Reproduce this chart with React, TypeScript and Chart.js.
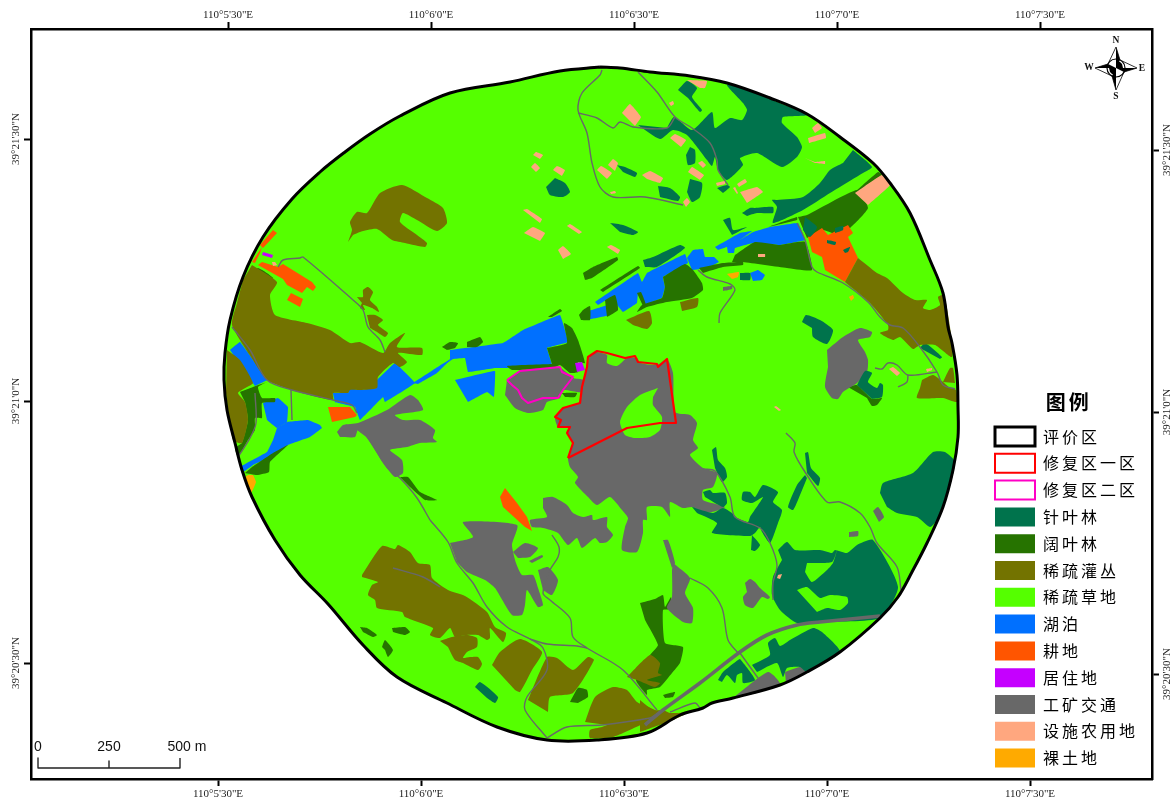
import React, { useEffect, useRef } from "react";
import { Chart, registerables } from "chart.js";

Chart.register(...registerables);

// ---- graticule: map-grid value -> label ----
const bottomTicks = [218, 421, 624, 827, 1030];
const topTicks = [228, 431, 634, 837, 1040];
const lonLabels = ["110°5'30\"E", "110°6'0\"E", "110°6'30\"E", "110°7'0\"E", "110°7'30\"E"];
const leftTicks = [139, 401, 663];
const rightTicks = [150, 412, 674];
const latLabels = ["39°21'30\"N", "39°21'0\"N", "39°20'30\"N"];

// ---- land-cover parcels, in map-grid units (x1,y1,x2,y2,...) ----
const evalBoundary = [600,67,620,68,650,72,690,76,727,83,770,98,807,114,840,137,873,163,890,183,910,213,930,260,943,293,948,327,952,343,957,375,958,407,958,437,953,470,943,507,927,543,912,572,898,597,880,618,840,652,807,672,780,685,733,698,712,703,703,708,680,715,647,733,597,740,547,740,497,727,447,703,397,677,363,645,328,604,300,575,275,540,252,497,242,470,235,443,227,410,224,380,225,353,230,320,243,277,263,237,292,199,320,172,345,152,370,134,400,116,450,93,510,82,560,71,600,67];

const lake = [
[715,247,740,233,752,231,740,240,753,232,770,227,798,223,805,240,780,245,753,243,735,248,734,253,728,253,727,247,718,250],
[687,258,693,250,703,249,705,257,714,257,719,262,707,268,692,270],
[595,302,638,273,642,282,647,273,685,254,688,263,663,277,665,287,662,298,643,305,638,293,637,303,623,312,617,305,610,315,585,320,583,313,607,305,615,295,598,305],
[750,273,758,270,765,275,762,280,753,281],
[450,350,503,343,523,330,560,315,568,342,547,348,552,365,510,368,495,368,468,372,465,358,453,359,440,368,450,360],
[455,380,495,371,494,397,487,392,468,402],
[377,380,395,363,415,383,385,402,383,397,360,420,355,407,335,402,333,393,348,393,350,388,358,390,377,388],
[413,383,433,370,452,358,437,373,418,384],
[230,350,240,342,267,380,255,386],
[263,403,278,398,288,407,287,422,277,428,267,420],
[277,428,287,422,308,420,320,425,322,428,310,437,288,445,270,457,253,465,242,473,240,467,267,452,273,440],
];

const broadleaf = [
[735,255,755,242,780,245,805,242,812,270,787,268,743,262,732,262],
[699,268,723,263,743,262,743,265,723,267,703,273],
[798,217,807,215,857,190,868,208,850,228,843,227,833,233,823,230,807,238],
[768,227,797,217,797,220,777,225],
[855,192,878,172,882,175,860,193],
[663,277,685,264,693,270,702,283,703,290,692,298,667,302,647,307,637,312,642,305,662,298,665,287],
[583,273,593,267,617,257,618,260,592,278,585,280],
[600,290,638,266,640,268,603,292],
[605,300,615,295,618,310,607,317],
[637,293,641,292,646,305,643,306],
[579,315,583,310,590,306,590,320,581,320],
[547,348,567,343,564,323,572,328,578,340,585,363,578,362,578,372,570,373,560,365,553,368,512,370,507,366,552,364],
[562,393,577,393,575,397,565,397],
[442,347,450,342,458,343,455,348,447,350],
[467,342,480,337,483,342,477,347,467,347],
[252,275,258,268,273,278,267,288],
[240,392,253,387,267,382,258,387,262,398,275,398,275,402,262,403,262,418,255,418,255,430,248,440,238,457,235,448,242,443,248,420,245,402],
[252,467,273,453,288,445,270,462,269,472,257,475,245,473],
[400,477,408,477,420,492,437,500,425,500,410,487],
[640,603,655,599,663,595,665,607,671,597,671,609,663,610,665,643,683,647,680,663,672,673,660,687,647,690,647,695,636,680,650,655,658,645,645,620],
[570,702,578,688,587,690,588,697,578,703],
[360,627,367,628,377,635,373,637,363,632],
[392,628,405,627,410,632,405,635,393,632],
[382,647,385,640,393,650,388,657,385,650],
[663,695,675,692,673,697,665,698],
[548,317,560,309,562,311,552,317],
[848,387,857,385,872,399,882,398,877,405,872,406,867,398],
];

const mining = [
[597,352,607,355,607,363,617,366,627,358,637,358,640,363,657,365,667,359,673,373,675,412,690,415,697,423,693,440,698,448,690,455,703,468,717,473,713,487,703,490,703,500,725,507,707,513,692,507,683,508,670,502,670,517,662,507,647,507,647,520,643,520,643,533,637,552,622,550,625,527,628,518,622,510,610,497,597,505,588,497,575,483,578,477,570,467,568,458,573,443,567,433,568,428,558,427,555,417,563,408,580,403,582,387,587,367,590,355],
[507,380,520,371,560,368,573,378,583,380,582,392,563,390,560,398,547,402,543,410,528,413,515,408,505,395],
[337,432,343,425,358,423,387,410,410,395,418,400,423,410,395,415,403,420,420,420,435,430,433,438,437,442,420,443,407,447,390,450,402,460,403,473,395,477,383,463,367,437,358,430,355,437,340,437],
[450,543,473,537,463,522,517,525,512,545,516,563,522,575,533,575,538,588,543,605,538,607,527,590,525,605,522,615,512,615,495,588,485,580,467,572,457,562],
[513,552,525,543,538,548,530,557,518,558],
[529,561,542,555,543,557,532,563],
[538,570,548,567,558,580,552,595,543,590],
[543,498,553,497,567,505,573,513,583,517,592,515,593,520,607,517,607,527,613,535,607,542,600,543,595,538,582,548,577,538,568,545,558,533,543,528,532,527,530,520,547,517,543,508],
[827,350,843,337,860,328,872,332,870,337,858,340,865,352,868,360,867,372,857,383,843,392,838,399,832,398,825,387,828,367],
[873,511,878,507,884,517,879,522],
[849,532,858,531,858,536,849,537],
[673,563,690,578,685,593,693,608,692,623,683,622,667,608,672,597,672,570],
[663,540,668,540,675,563,672,568],
[745,583,750,579,755,582,760,588,770,597,768,599,762,597,753,608,745,605,743,597,747,592],
[733,698,768,672,780,684,757,693],
[785,672,800,667,808,670,786,683],
[723,287,732,286,732,289,723,291],
];

const cropland = [
[808,237,822,228,828,235,848,225,853,233,848,237,858,258,845,282,825,270,822,257,812,252],
[273,230,277,233,263,248,260,245],
[262,247,260,253,255,263,252,262],
[258,265,262,262,278,267,283,264,312,282,316,287,313,291,307,287,302,293,287,285,283,279],
[291,293,303,299,300,307,287,300],
[328,407,350,407,357,415,355,417,332,422],
[505,488,517,503,527,517,532,531,525,527,503,507,500,497],
];

const conifer = [
[638,125,660,139,673,130,687,135,707,160,712,166,715,157,718,170,727,180,743,165,740,158,757,153,782,167,797,157,802,147,797,137,782,123,783,117,807,115,777,102,750,90,727,85,743,103,747,110,742,120,730,118,715,128,712,112,692,130,674,117,667,128],
[853,150,872,167,863,173,830,193,803,210,773,223,777,207,772,200,777,200,803,197,820,183,830,170,843,163],
[678,90,687,81,697,88,692,97,702,110,700,112,688,98],
[690,147,695,150,695,163,688,165,686,155],
[617,165,625,167,637,173,635,177,623,172],
[555,178,565,183,570,192,563,197,550,195,546,187],
[658,186,670,188,680,197,678,201,660,197],
[690,179,702,183,700,197,692,202,687,192],
[717,188,727,185,730,187,723,193],
[610,223,623,225,638,232,633,235,620,232],
[723,220,730,218,733,230,747,227,732,235],
[742,213,750,208,755,208,773,207,773,213,757,213,747,216],
[805,217,817,227,810,237,803,230],
[827,240,836,242,835,245,827,243],
[843,250,850,247,848,252,845,253],
[835,228,843,226,843,230,835,233],
[740,273,750,273,750,280,740,280],
[643,260,653,257,680,245,685,248,657,267,645,267],
[802,322,806,315,820,320,833,330,827,344,813,337,812,328],
[857,385,865,371,872,373,868,382,877,388,880,383,883,385,882,397,872,399],
[920,348,925,343,942,357,940,359],
[880,493,883,483,913,473,933,452,945,452,955,462,947,497,937,520,930,527,917,517,897,513,887,507],
[712,450,716,447,718,460,725,468,727,477,722,482,715,468],
[805,453,808,452,811,468,820,478,818,486,807,473],
[805,475,797,485,788,507,793,510,798,500,807,478],
[703,492,710,490,713,493,725,493,727,503,723,507,705,497],
[692,507,713,513,723,508,732,513,737,518,748,522,750,517,763,497,752,503,742,500,743,492,750,492,755,497,763,485,778,492,773,502,782,510,778,523,770,543,762,532,760,527,755,533,750,536,712,533,717,523,697,513],
[752,535,760,545,755,551,751,550],
[778,550,787,542,795,550,820,550,832,553,835,550,847,553,857,545,873,540,898,587,880,618,820,622,797,623,780,610,772,595,773,577,782,560],
[752,665,770,655,768,643,775,638,780,646,790,640,813,628,822,632,840,652,807,672,800,667,787,668,783,677,777,663,757,672],
[718,680,723,672,738,660,740,659,755,680,743,683,742,673,737,675,735,683,727,675,722,682],
[475,687,480,682,498,697,495,703,487,698],
];

const shrubland = [
[348,242,352,230,350,222,357,212,367,213,380,193,402,185,427,198,443,208,447,223,437,231,417,220,403,213,400,222,417,235,427,243,425,247,405,243,392,240,377,229,360,232,353,235],
[252,265,277,282,270,295,275,315,307,323,330,330,350,343,360,342,383,353,390,343,405,333,397,347,422,348,422,355,398,353,407,362,400,367,393,363,378,377,377,388,360,390,350,390,348,393,333,393,333,400,313,396,292,390,267,380,253,360,232,325,237,303,243,280],
[227,350,240,360,253,383,247,387,238,393,245,402,248,420,242,443,233,440,226,393],
[357,297,363,297,363,290,368,287,373,292,370,300,377,307,379,312,372,308,363,305,365,310,360,308,362,303],
[367,315,375,315,383,320,378,325,388,333,385,337,377,332,370,328],
[858,258,877,273,887,278,903,293,915,300,927,300,923,308,930,310,940,305,938,297,944,295,950,327,952,357,935,345,920,345,913,349,900,337,893,340,880,333,888,330,888,325,870,303,845,282],
[922,380,933,375,943,382,950,388,956,390,957,402,943,398,917,398,920,388],
[943,382,950,368,953,368,955,383],
[680,302,698,298,697,307,682,311],
[626,320,649,311,652,323,647,329,633,325],
[362,575,382,546,395,549,398,545,410,552,418,563,430,565,432,578,448,590,465,596,487,612,495,627,506,633,503,642,490,628,490,638,487,640,478,635,465,635,455,637,450,628,440,638,430,635,433,628,405,617,402,612,377,608,375,600,368,595,372,585,378,582,362,577],
[440,641,452,637,467,635,477,638,477,647,467,652,463,658,470,657,478,657,482,664,478,670,463,663,455,660,448,647],
[492,665,500,652,520,639,542,652,532,670,520,692,515,690],
[528,700,547,657,557,658,573,670,588,657,594,660,573,693,550,697,548,712],
[585,722,595,697,613,687,627,690,637,702,655,710,658,717,647,722,623,733,613,737,590,738,590,730,602,727,607,725],
[627,677,650,655,660,663,658,673,662,675,647,680,660,683,655,687,637,680],
[640,700,653,710,663,710,670,713,687,713,673,720,640,732],
];

const facility = [
[622,113,630,104,641,117,635,126],[669,103,673,101,674,104,671,106],[687,80,707,81,705,88,700,88],
[670,138,675,134,686,140,681,147],[812,128,818,123,822,128,815,133],[808,138,825,133,826,138,809,143],
[805,158,815,162,825,161,825,164,815,163],[855,193,882,175,890,185,868,205],[533,155,536,152,543,155,540,159],
[531,167,535,163,540,168,536,172],[553,170,557,166,565,170,562,176],[597,170,601,166,612,173,607,179],
[608,165,613,159,618,163,615,171],[642,175,650,171,663,178,660,183,647,179],[688,172,692,167,704,175,700,180],
[698,163,702,161,706,165,703,168],[716,183,725,181,725,184,717,186],[737,184,745,179,747,182,739,187],
[733,188,735,187,738,193,737,194],[740,192,757,187,763,192,747,203],[610,192,615,191,616,193,611,194],
[683,202,687,198,690,202,686,207],[523,210,527,209,542,219,540,223],[524,233,533,227,545,233,540,241],
[567,226,570,224,582,232,579,234],[558,250,563,246,571,254,563,259],[607,247,611,245,620,250,618,254],
[758,254,765,254,765,257,758,257],[889,369,893,367,900,373,897,376],[926,369,932,368,932,370,927,372],
[774,407,776,406,781,410,779,411],[778,575,782,574,780,579,777,578],[272,262,275,262,277,265,273,266],
];

const bareland = [
[727,274,739,272,738,277,732,279],[849,297,853,295,854,298,851,301],[248,475,253,475,256,482,251,493,245,477],
];

const residential = [
[263,252,273,255,272,258,262,255],[575,363,582,362,585,370,577,372],
];

const grassPatches = [
[658,388,640,395,627,407,620,422,625,435,635,438,650,437,660,430,662,417,653,405,653,397],
[807,563,832,562,837,550,833,563,827,570,812,582,805,572],
[797,590,807,587,820,598,830,595,847,597,848,603,840,610,827,608,817,612],
];

const roads = [
[602,70,600,75,582,93,578,110,587,133,592,163,600,187,613,197,645,197,683,205],
[578,113,597,118,613,128,620,122,633,127,667,128,675,117],
[638,72,657,92,675,117,692,128,710,143,717,160,718,170,728,185],
[698,270,707,277,730,284,735,290,720,313,719,323],
[797,223,805,240,812,267,817,272,843,283,868,302,880,317,890,325,903,328,920,347,937,372,943,385,955,389],
[875,368,882,369,888,363,897,365,908,375,937,372],
[908,375,907,382,898,387],
[786,433,795,443,794,452,805,472,827,502,840,502,860,513,870,527,877,543,897,567,901,590],
[703,469,715,471,730,497,735,517,760,528,770,543,777,565,773,583,773,600],
[670,712,695,703,700,708],
[430,520,448,542,457,563,473,583,487,607,507,627,530,639,543,648,547,670,527,697,525,710,547,738],
[552,535,559,547,558,557,550,570,543,593,550,600,570,618,573,637,587,648,623,670,657,710],
[530,639,547,644,577,646,587,648],
[547,738,567,727,602,725,650,718,655,715],
[393,568,423,577,440,587],
[278,267,283,260,300,258,303,257,353,300,363,310,368,327,380,340,385,352],
[232,327,250,350,267,380,292,390,333,400,352,405,357,413],
[291,390,292,420],
[255,393,256,423,250,438,238,457],
[358,430,367,437,387,467,400,478,417,498,430,520],
[690,578,708,588,722,608,728,640,738,653],
[740,653,758,678],
];
const mainRoad = [880,616,820,622,797,625,767,635,740,652,700,683,663,710,645,725];

const zoneOne = [568,458,573,443,567,433,570,427,558,427,561,420,555,417,563,408,580,403,582,387,587,367,588,357,597,351,607,353,625,358,635,356,638,362,657,364,658,367,667,359,676,423,660,423,627,428,568,458];
const zoneTwo = [507,380,520,371,560,367,562,372,573,377,563,390,558,398,543,398,528,403,522,398,518,390,512,385,507,380];

// ---- legend ----
const legendNames = ["评价区","修复区一区","修复区二区","针叶林","阔叶林","稀疏灌丛","稀疏草地","湖泊","耕地","居住地","工矿交通","设施农用地","裸土地"];
const legendFills = ["#ffffff","#ffffff","#ffffff","#00734C","#267300","#737300","#55FF00","#0070FF","#FF5500","#C500FF","#686868","#FFA77F","#FFAA00"];
const legendStrokes = ["#000000","#FF0000","#FF00C5"];
const legendStrokeWidths = [3, 2, 2];

// ---- scale bar and north arrow ----
const scaleBar = [38,758,38,768,109,768,109,761,109,768,180,768,180,758];
const scaleLabels = [["0",38],["250",109],["500 m",187]];
const compassBlack = [
[1116,47,1120,60,1116,68],[1137,68,1124,72,1116,68],[1116,90,1112,76,1116,68],[1095,68,1108,64,1116,68],
[1116,68,1116,61,1120,62,1122,64,1123,68],[1116,68,1116,75,1112,74,1110,72,1109,68],
];
const compassStar = [1116,47,1120,60,1137,68,1124,72,1116,90,1112,76,1095,68,1108,64,1116,47];
const compassCentre = [1116,68];
const compassLetters = [["N",1116,41],["S",1116,97],["W",1089,68],["E",1142,69]];

const pts = (f: number[]) => {
  const out: { x: number; y: number }[] = [];
  for (let i = 0; i < f.length; i += 2) out.push({ x: f[i], y: f[i + 1] });
  return out;
};

const SERIF = "'Liberation Serif', serif";
const CJK = "'Noto Sans CJK SC', sans-serif";

function buildDatasets() {
  const ds: any[] = [];
  const solid = (f: number[], color: string, tension: number) =>
    ds.push({ data: pts(f), showLine: true, fill: "shape", backgroundColor: color, borderWidth: 0, pointRadius: 0, tension });
  const stroke = (f: number[], color: string, width: number, tension = 0) =>
    ds.push({ data: pts(f), showLine: true, fill: false, borderColor: color, borderWidth: width, pointRadius: 0, tension, borderJoinStyle: "round" });

  solid(evalBoundary, "#55FF00", 0.35);
  lake.forEach((p) => solid(p, "#0070FF", 0.05));
  broadleaf.forEach((p) => solid(p, "#267300", 0.15));
  mining.forEach((p) => solid(p, "#686868", 0.2));
  cropland.forEach((p) => solid(p, "#FF5500", 0));
  conifer.forEach((p) => solid(p, "#00734C", 0.2));
  shrubland.forEach((p) => solid(p, "#737300", 0.2));
  facility.forEach((p) => solid(p, "#FFA77F", 0.1));
  bareland.forEach((p) => solid(p, "#FFAA00", 0.1));
  residential.forEach((p) => solid(p, "#C500FF", 0));
  grassPatches.forEach((p) => solid(p, "#55FF00", 0.2));
  roads.forEach((r) => stroke(r, "#686868", 1.4, 0.3));
  stroke(mainRoad, "#686868", 3.6, 0.3);
  stroke(zoneOne, "#FF0000", 2.2);
  stroke(zoneTwo, "#FF00C5", 2);
  stroke(evalBoundary, "#000000", 3, 0.35);
  stroke(scaleBar, "#222222", 1.4);
  stroke(compassStar, "#000000", 0.8);
  ds.push({ data: pts(compassCentre), pointRadius: 9, pointBackgroundColor: "#ffffff", pointBorderColor: "#000000", pointBorderWidth: 1.2 });
  compassBlack.forEach((p) => solid(p, "#000000", 0));
  ds.forEach((d, i) => { d.order = ds.length - i; d.xAxisID = "x"; d.yAxisID = "y"; });
  return ds;
}

const axisBase = (ticks: number[], labels: string[], vertical: boolean, padding: number) => ({
  type: "linear",
  afterBuildTicks: (s: any) => { s.ticks = ticks.map((value) => ({ value })); },
  border: { color: "#000", width: 2.5 },
  grid: { drawOnChartArea: false, tickLength: 7, tickWidth: 2, tickColor: "#000" },
  ticks: {
    autoSkip: false,
    color: "#222",
    padding,
    minRotation: vertical ? 90 : 0,
    maxRotation: vertical ? 90 : 0,
    crossAlign: vertical ? "center" : "near",
    font: { family: SERIF, size: 11 },
    callback: (v: number) => labels[ticks.indexOf(v)],
  },
});

const mapText = {
  id: "mapText",
  afterDatasetsDraw(chart: any) {
    const { ctx, scales } = chart;
    const X = (v: number) => scales.x.getPixelForValue(v);
    const Y = (v: number) => scales.y.getPixelForValue(v);
    ctx.save();
    ctx.textAlign = "center";
    ctx.textBaseline = "middle";
    ctx.fillStyle = "#111";
    ctx.font = `bold 9.5px ${SERIF}`;
    compassLetters.forEach(([t, x, y]) => ctx.fillText(t as string, X(x as number), Y(y as number)));
    ctx.font = "14px 'Liberation Sans', sans-serif";
    scaleLabels.forEach(([t, x]) => ctx.fillText(t as string, X(x as number), Y(747)));
    ctx.restore();
  },
};

const legendPlacer = {
  id: "legendPlacer",
  afterLayout(chart: any) {
    const l = chart.legend;
    if (!l) return;
    l.left = 987.2; l.right = 1152; l.top = 392; l.bottom = 779; l.width = 163;
    if (!l.__spaced) {
      l.__spaced = true;
      const orig = l.draw;
      l.draw = function (...a: any[]) {
        chart.ctx.save();
        chart.ctx.letterSpacing = "3px";
        orig.apply(this, a);
        chart.ctx.restore();
      };
    }
  },
};

export default function App() {
  const ref = useRef<HTMLCanvasElement>(null);
  useEffect(() => {
    const chart = new Chart(ref.current as HTMLCanvasElement, {
      type: "scatter",
      data: { datasets: buildDatasets() },
      plugins: [mapText, legendPlacer],
      options: {
        animation: false,
        responsive: false,
        devicePixelRatio: 1,
        events: [],
        layout: { padding: 0 },
        scales: {
          x: {
            ...axisBase(bottomTicks, lonLabels, false, 2), position: "bottom", min: 31, max: 1152,
            afterFit: (s: any) => { s.height = 22; },
          },
          xTop: {
            ...axisBase(topTicks, lonLabels, false, 0), axis: "x", position: "top", min: 31, max: 1152,
            afterFit: (s: any) => { s.height = 29; },
          },
          y: {
            ...axisBase(leftTicks, latLabels, true, -18), position: "left", min: 29, max: 779, reverse: true,
            afterFit: (s: any) => { s.width = 31; },
          },
          yRight: {
            ...axisBase(rightTicks, latLabels, true, -18), axis: "y", position: "right", min: 29, max: 779, reverse: true,
            afterFit: (s: any) => { s.width = 22; },
          },
        } as any,
        plugins: {
          tooltip: { enabled: false },
          legend: {
            position: "chartArea" as any,
            align: "start",
            title: { display: true, text: "图例", color: "#000", padding: { top: 0, bottom: 3.2 }, font: { family: CJK, size: 20, weight: "bold" } },
            labels: {
              boxWidth: 40,
              boxHeight: 19,
              padding: 7.8,
              color: "#111",
              font: { family: CJK, size: 16 },
              generateLabels: () =>
                legendNames.map((text, i) => ({
                  text,
                  fillStyle: legendFills[i],
                  strokeStyle: legendStrokes[i] ?? legendFills[i],
                  lineWidth: legendStrokeWidths[i] ?? 0,
                  hidden: false,
                  datasetIndex: 0,
                })),
            },
          },
        },
      } as any,
    });
    return () => chart.destroy();
  }, []);
  return (
    <div style={{ position: "absolute", left: 0, top: 0, width: 1174, height: 801, background: "#fff" }}>
      <canvas ref={ref} width={1174} height={801} style={{ display: "block" }} />
    </div>
  );
}
